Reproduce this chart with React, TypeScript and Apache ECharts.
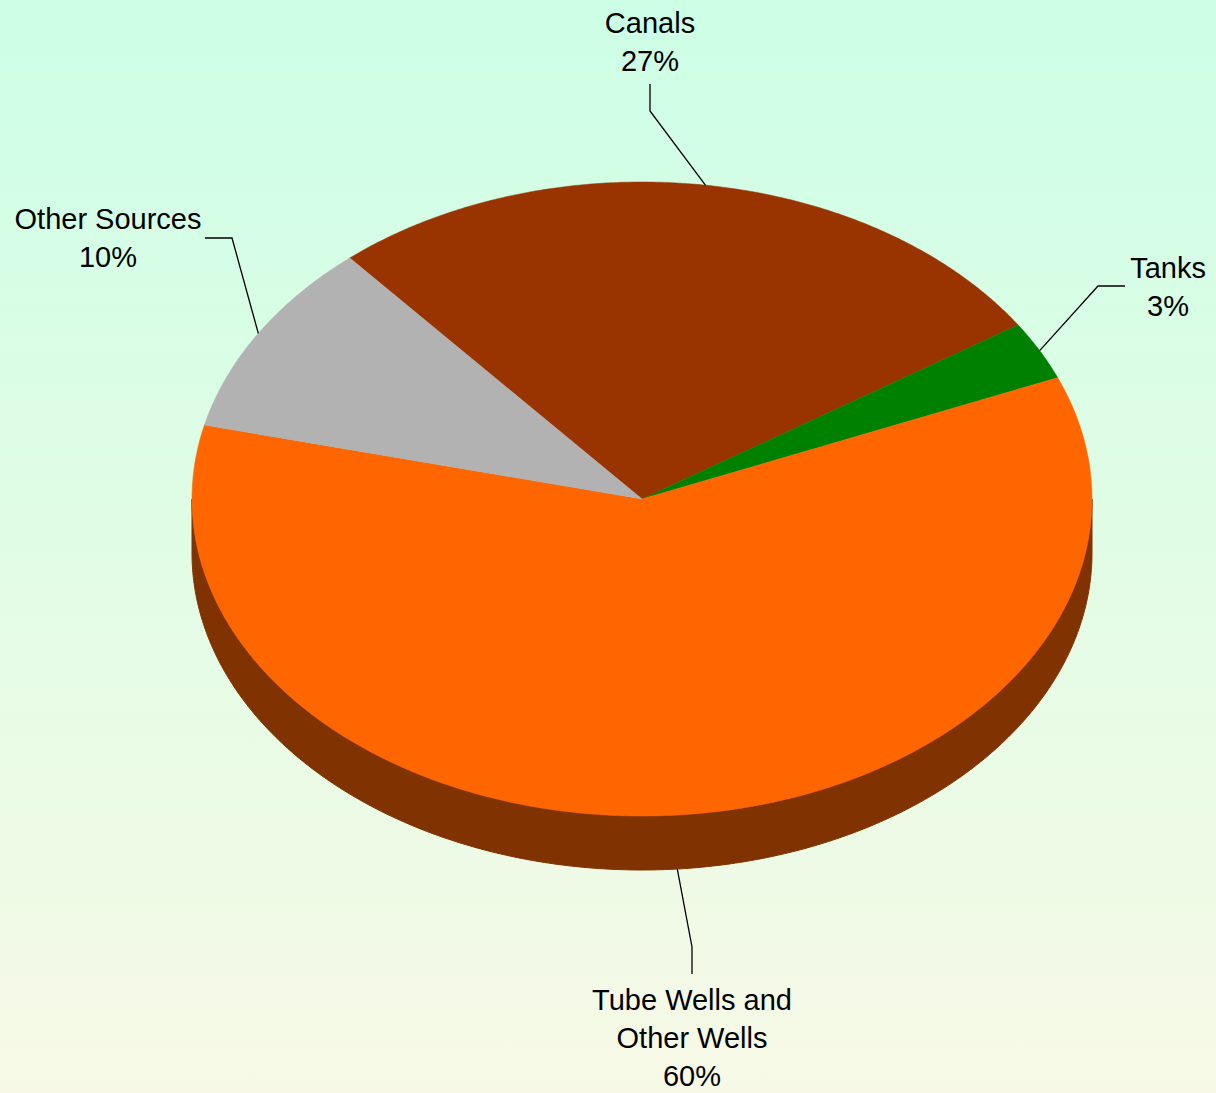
import React, { useEffect, useRef } from "react";
import * as echarts from "echarts";

// ---- data ----
const categories = ["Canals", "Tanks", "Tube Wells and\nOther Wells", "Other Sources"];
const values = [27, 3, 60, 10];
const topColors = ["#993300", "#008000", "#FF6600", "#B2B2B2"];
const sideColors = ["#4D1A00", "#004000", "#803300", "#595959"];

// ---- layout ----
const START_DEG = 319.5; // first slice starts here, clockwise from 12 o'clock
const CX = 642;
const CY = 499;
const RX = 450;
const RY = 317;
const DEPTH = 54;
const FONT_SIZE = 29;
const LINE_H = 38;

// label text anchor (top center of text block), elbow and end of leader line
const labelLayout = [
  { tx: 650, ty: 4, elbow: [650, 111], end: [650, 84] },
  { tx: 1168, ty: 249, elbow: [1098, 286], end: [1125, 286] },
  { tx: 692, ty: 981, elbow: [692, 947], end: [692, 974] },
  { tx: 108, ty: 200, elbow: [232, 238], end: [205, 238] },
];

const total = values.reduce((a, b) => a + b, 0);
const toRad = (d: number) => (d * Math.PI) / 180;
const pt = (deg: number, dy = 0): number[] => [
  CX + RX * Math.sin(toRad(deg)),
  CY - RY * Math.cos(toRad(deg)) + dy,
];

function sliceAngles(i: number, v: number) {
  let before = 0;
  for (let k = 0; k < i; k++) before += values[k];
  const a0 = START_DEG + (before / total) * 360;
  const a1 = a0 + (v / total) * 360;
  return [a0, a1];
}

function arcPoints(a0: number, a1: number, dy = 0) {
  const pts: number[][] = [];
  const n = Math.max(2, Math.ceil((a1 - a0) / 0.5));
  for (let k = 0; k <= n; k++) pts.push(pt(a0 + ((a1 - a0) * k) / n, dy));
  return pts;
}

export default function App() {
  const ref = useRef<HTMLDivElement>(null);

  useEffect(() => {
    if (!ref.current) return;
    const chart = echarts.init(ref.current, undefined, { renderer: "svg" });

    const data = values.map((v, i) => ({ name: categories[i], value: v }));

    const sideSeries = {
      type: "custom",
      coordinateSystem: "none",
      silent: true,
      z: 1,
      data,
      renderItem: (params: any, api: any) => {
        const i = params.dataIndex;
        const [a0, a1] = sliceAngles(i, api.value(0));
        const children: any[] = [];
        // visible (front) part of the rim: angles within [90,270] (mod 360)
        for (const off of [0, 360]) {
          const s = Math.max(a0, 90 + off);
          const e = Math.min(a1, 270 + off);
          if (e > s) {
            const top = arcPoints(s, e, 0);
            const bottom = arcPoints(s, e, DEPTH).reverse();
            children.push({
              type: "polygon",
              shape: { points: top.concat(bottom) },
              style: { fill: sideColors[i], stroke: sideColors[i], lineWidth: 1 },
            });
          }
        }
        return { type: "group", children };
      },
    };

    const topSeries = {
      type: "custom",
      coordinateSystem: "none",
      silent: true,
      z: 2,
      data,
      renderItem: (params: any, api: any) => {
        const i = params.dataIndex;
        const [a0, a1] = sliceAngles(i, api.value(0));
        const pts = [[CX, CY]].concat(arcPoints(a0, a1, 0));
        return {
          type: "polygon",
          shape: { points: pts },
          style: { fill: topColors[i], stroke: topColors[i], lineWidth: 0.5 },
        };
      },
    };

    const labelSeries = {
      type: "custom",
      coordinateSystem: "none",
      silent: true,
      z: 3,
      data,
      renderItem: (params: any, api: any) => {
        const i = params.dataIndex;
        const v = api.value(0);
        const [a0, a1] = sliceAngles(i, v);
        const mid = (a0 + a1) / 2;
        const m = ((mid % 360) + 360) % 360;
        const front = m > 90 && m < 270;
        const anchor = pt(mid, front ? DEPTH : 0);
        const L = labelLayout[i];
        const pct = Math.round((v / total) * 100) + "%";
        return {
          type: "group",
          children: [
            {
              type: "polyline",
              shape: { points: [anchor, L.elbow, L.end] },
              style: { stroke: "#000", lineWidth: 1.3, fill: "none" },
            },
            {
              type: "text",
              x: L.tx,
              y: L.ty,
              style: {
                text: categories[i] + "\n" + pct,
                align: "center",
                verticalAlign: "top",
                fontFamily: "Arial, 'Liberation Sans', sans-serif",
                fontSize: FONT_SIZE,
                lineHeight: LINE_H,
                fill: "#000",
              },
            },
          ],
        };
      },
    };

    chart.setOption({
      animation: false,
      backgroundColor: new echarts.graphic.LinearGradient(0, 0, 0, 1, [
        { offset: 0, color: "#CCFFE5" },
        { offset: 1, color: "#F7F9E6" },
      ]),
      series: [sideSeries, topSeries, labelSeries],
    } as any);

    return () => chart.dispose();
  }, []);

  return (
    <div
      ref={ref}
      style={{ position: "absolute", left: 0, top: 0, width: 1216, height: 1093 }}
    />
  );
}
